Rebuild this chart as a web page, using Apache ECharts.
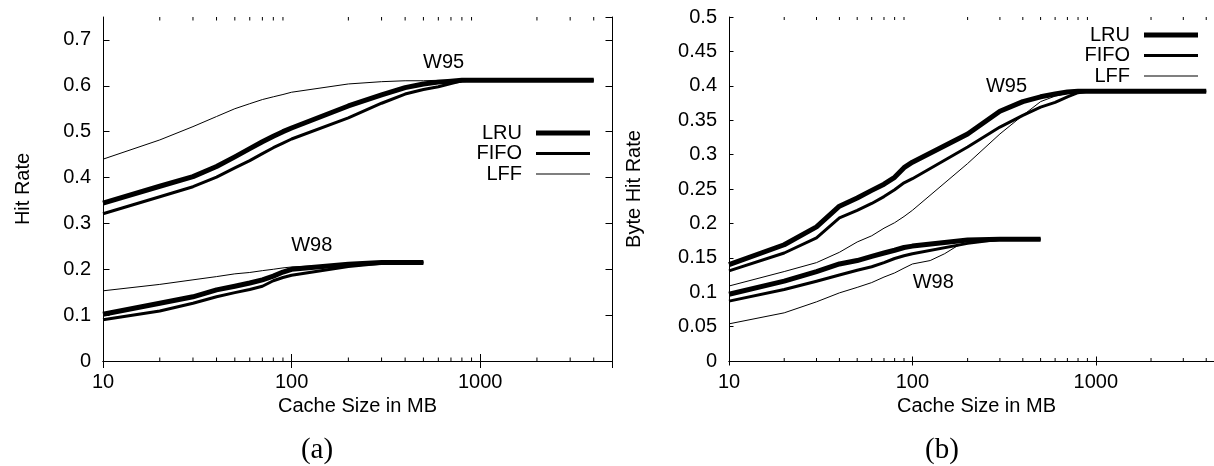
<!DOCTYPE html>
<html><head><meta charset="utf-8">
<script src="https://cdn.jsdelivr.net/npm/echarts@6/dist/echarts.min.js"></script>
<style>html,body{margin:0;padding:0;background:#fff}#c{width:1214px;height:466px}</style>
</head><body><div id="c"></div>
<script>
// ---- data ----
const sizesW95 = [10,20,30,40,50,60,70,80,90,100,200,300,400,500,600,700,800,900,1000,2000,3000,4000];
const sizesW98 = [10,20,30,40,50,60,70,80,90,100,200,300,400,500];
const sizesW98b = [10,20,30,40,50,60,70,80,90,100,125,150,175,200,300,400,500];

// (a) Hit Rate
const hitW95LRU  = [0.344,0.381,0.402,0.424,0.445,0.463,0.478,0.490,0.500,0.508,0.556,0.580,0.596,0.604,0.608,0.610,0.612,0.612,0.612,0.612,0.612,0.612];
const hitW95FIFO = [0.321,0.358,0.380,0.401,0.421,0.437,0.452,0.465,0.475,0.484,0.530,0.562,0.582,0.592,0.598,0.605,0.611,0.612,0.612,0.612,0.612,0.612];
const hitW95LFF  = [0.440,0.482,0.511,0.533,0.550,0.561,0.570,0.576,0.581,0.586,0.604,0.609,0.611,0.611,0.612,0.612,0.612,0.612,0.612,0.612,0.612,0.612];
const hitW98LRU  = [0.102,0.126,0.140,0.155,0.163,0.170,0.177,0.185,0.194,0.200,0.211,0.215,0.215,0.215];
const hitW98FIFO = [0.090,0.109,0.126,0.140,0.149,0.156,0.163,0.175,0.182,0.187,0.206,0.213,0.215,0.215];
const hitW98LFF  = [0.153,0.167,0.177,0.184,0.190,0.193,0.197,0.200,0.203,0.205,0.211,0.214,0.215,0.215];

// (b) Byte Hit Rate
const byteW95LRU  = [0.140,0.169,0.195,0.225,0.237,0.248,0.257,0.267,0.281,0.289,0.330,0.363,0.377,0.384,0.388,0.391,0.392,0.392,0.392,0.392,0.392,0.392];
const byteW95FIFO = [0.131,0.157,0.179,0.208,0.219,0.229,0.239,0.249,0.259,0.265,0.311,0.340,0.357,0.369,0.376,0.384,0.390,0.392,0.392,0.392,0.392,0.392];
const byteW95LFF  = [0.109,0.130,0.143,0.158,0.173,0.182,0.193,0.201,0.210,0.219,0.287,0.330,0.357,0.377,0.385,0.389,0.391,0.392,0.392,0.392,0.392,0.392];
const byteW98LRU  = [0.097,0.116,0.130,0.141,0.146,0.152,0.157,0.161,0.165,0.167,0.176,0.177,0.177,0.177];
const byteW98FIFO = [0.087,0.104,0.116,0.125,0.132,0.137,0.143,0.149,0.153,0.156,0.171,0.177,0.177,0.177];
const byteW98LFF  = [0.054,0.070,0.086,0.099,0.107,0.114,0.122,0.128,0.135,0.141,0.146,0.156,0.167,0.172,0.177,0.177,0.177];

const policies = ['LRU','FIFO','LFF'];
const minorTickValues = [20,30,40,50,60,70,80,90,200,300,400,500,600,700,800,900,2000,3000,4000];

// workload annotations (data coordinates)
const notesA = [[640, 0.650, 'W95'], [128, 0.251, 'W98']];
const notesB = [[326, 0.399, 'W95'], [130, 0.114, 'W98']];

// axis ranges
const xMin = 10, xMax = 5000;
const yMaxA = 0.75, yStepA = 0.1;
const yMaxB = 0.5, yStepB = 0.05;

// ---- chart ----
const FONT = 'Liberation Sans';
const FS = 20;
const widths = {LRU: 5, FIFO: 3, LFF: 1};

function lineSeries(name, xs, ys, xi, yi) {
  return {
    type: 'line', name, xAxisIndex: xi, yAxisIndex: yi,
    data: xs.map((x, i) => [x, ys[i]]),
    symbol: 'none', showSymbol: false, animation: false,
    lineStyle: {color: '#000', width: widths[name], join: 'round', cap: 'butt'},
    itemStyle: {color: '#000'},
    emphasis: {disabled: true}, silent: true
  };
}
function noteSeries(notes, xi, yi) {
  return {
    type: 'scatter', xAxisIndex: xi, yAxisIndex: yi, silent: true,
    data: notes, symbol: 'circle', symbolSize: 0,
    itemStyle: {color: '#000'},
    emphasis: {disabled: true},
    label: {show: true, position: 'inside', formatter: p => p.value[2],
      fontFamily: FONT, fontSize: FS, color: '#000', textBorderWidth: 0, opacity: 1}
  };
}
function minorTickSeries(xi, yi, yMax, len) {
  return {
    type: 'custom', xAxisIndex: xi, yAxisIndex: yi, silent: true, clip: false,
    data: minorTickValues.map(v => [v, 0]),
    renderItem(params, api) {
      const v = api.value(0);
      const b = api.coord([v, 0]);
      const t = api.coord([v, yMax]);
      const st = {stroke: '#000', lineWidth: 1};
      return {type: 'group', children: [
        {type: 'line', shape: {x1: b[0], y1: b[1], x2: b[0], y2: b[1] - len}, style: st},
        {type: 'line', shape: {x1: t[0], y1: t[1], x2: t[0], y2: t[1] + len}, style: st}
      ]};
    }
  };
}
function xAxes(gi, tickLen) {
  const base = {
    gridIndex: gi, type: 'log', logBase: 10, min: xMin, max: xMax,
    axisLine: {show: true, lineStyle: {color: '#000', width: 1}},
    axisTick: {show: true, inside: true, length: tickLen, lineStyle: {color: '#000'}},
    splitLine: {show: false}, minorTick: {show: false}, minorSplitLine: {show: false}
  };
  return [
    Object.assign({}, base, {
      position: 'bottom',
      axisLabel: {show: true, margin: 11, fontFamily: FONT, fontSize: FS, color: '#000',
        showMaxLabel: false, formatter: v => String(Math.round(v))},
      name: 'Cache Size in MB', nameLocation: 'middle', nameGap: 30,
      nameTextStyle: {fontFamily: FONT, fontSize: FS, color: '#000'}
    }),
    Object.assign({}, base, {position: 'top', axisLabel: {show: false}})
  ];
}
function yAxes(gi, yMax, step, tickLen, name, nameGap, showMax) {
  const base = {
    gridIndex: gi, type: 'value', min: 0, max: yMax, interval: step,
    axisLine: {show: true, onZero: false, lineStyle: {color: '#000', width: 1}},
    axisTick: {show: true, inside: true, length: tickLen, lineStyle: {color: '#000'}},
    splitLine: {show: false}
  };
  return [
    Object.assign({}, base, {
      position: 'left',
      axisLabel: {show: true, margin: 12, fontFamily: FONT, fontSize: FS, color: '#000',
        showMaxLabel: showMax, formatter: v => String(+v.toFixed(2))},
      name, nameLocation: 'middle', nameRotate: 90, nameGap,
      nameTextStyle: {fontFamily: FONT, fontSize: FS, color: '#000'}
    }),
    Object.assign({}, base, {position: 'right', axisLabel: {show: false}})
  ];
}
function legendAt(right, top) {
  const icons = {LRU: 'path://M0,0H54V5H0Z', FIFO: 'path://M0,0H54V3H0Z', LFF: 'path://M0,0H54V1H0Z'};
  return {
    orient: 'vertical', right, top, align: 'right', selectedMode: false,
    itemWidth: 54, itemHeight: 14, itemGap: 0.5,
    data: policies.map(p => ({name: p, icon: icons[p]})),
    itemStyle: {color: '#000', borderWidth: 0},
    textStyle: {fontFamily: FONT, fontSize: FS, color: '#000', padding: [0, 9, 0, 0]}
  };
}

const xa = xAxes(0, 7).concat(xAxes(1, 4.5));
const ya = yAxes(0, yMaxA, yStepA, 6.5, 'Hit Rate', 70, false).concat(yAxes(1, yMaxB, yStepB, 4.5, 'Byte Hit Rate', 85, true));

const series = [
  lineSeries('LRU', sizesW95, hitW95LRU, 0, 0),
  lineSeries('FIFO', sizesW95, hitW95FIFO, 0, 0),
  lineSeries('LFF', sizesW95, hitW95LFF, 0, 0),
  lineSeries('LRU', sizesW98, hitW98LRU, 0, 0),
  lineSeries('FIFO', sizesW98, hitW98FIFO, 0, 0),
  lineSeries('LFF', sizesW98, hitW98LFF, 0, 0),
  lineSeries('LRU', sizesW95, byteW95LRU, 2, 2),
  lineSeries('FIFO', sizesW95, byteW95FIFO, 2, 2),
  lineSeries('LFF', sizesW95, byteW95LFF, 2, 2),
  lineSeries('LRU', sizesW98, byteW98LRU, 2, 2),
  lineSeries('FIFO', sizesW98, byteW98FIFO, 2, 2),
  lineSeries('LFF', sizesW98b, byteW98LFF, 2, 2),
  noteSeries(notesA, 0, 0),
  noteSeries(notesB, 2, 2),
  minorTickSeries(0, 0, yMaxA, 3.5),
  minorTickSeries(2, 2, yMaxB, 3)
];

const chart = echarts.init(document.getElementById('c'), null, {renderer: 'canvas'});
chart.setOption({
  animation: false,
  backgroundColor: '#fff',
  grid: [
    {left: 103, top: 17, width: 509, height: 344, outerBoundsMode: 'none', containLabel: false},
    {left: 729, top: 17, width: 495, height: 344, outerBoundsMode: 'none', containLabel: false}
  ],
  xAxis: xa,
  yAxis: ya,
  legend: [legendAt(619, 118), legendAt(11, 20)],
  graphic: [
    {type: 'text', x: 317, y: 450, style: {text: '(a)', fontFamily: 'Liberation Serif', fontSize: 29, fill: '#000', textAlign: 'center', textVerticalAlign: 'middle'}},
    {type: 'text', x: 942, y: 450, style: {text: '(b)', fontFamily: 'Liberation Serif', fontSize: 29, fill: '#000', textAlign: 'center', textVerticalAlign: 'middle'}}
  ],
  series
});
</script>
</body></html>
